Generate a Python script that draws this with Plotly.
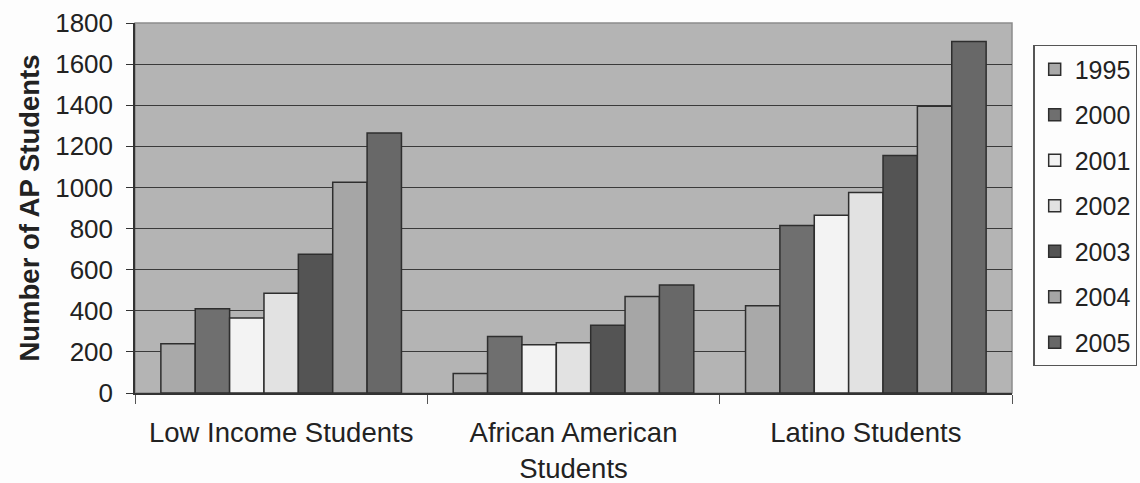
import plotly.graph_objects as go

# Student groups on the category axis
groups = ["Low Income Students", "African American<br>Students", "Latino Students"]

# Number of AP students per year, one list per series (same order as groups)
years = ["1995", "2000", "2001", "2002", "2003", "2004", "2005"]
ap_1995 = [240, 95, 425]
ap_2000 = [410, 275, 815]
ap_2001 = [365, 235, 865]
ap_2002 = [485, 245, 975]
ap_2003 = [675, 330, 1155]
ap_2004 = [1025, 470, 1395]
ap_2005 = [1265, 525, 1710]

y_ticks = [0, 200, 400, 600, 800, 1000, 1200, 1400, 1600, 1800]

series = [ap_1995, ap_2000, ap_2001, ap_2002, ap_2003, ap_2004, ap_2005]
fills = ["#a9a9a9", "#6f6f6f", "#f3f3f3", "#e2e2e2", "#545454", "#a6a6a6", "#686868"]

FONT = "Liberation Sans, Arial, sans-serif"

fig = go.Figure()
for name, vals, col in zip(years, series, fills):
    fig.add_trace(go.Bar(
        x=groups, y=vals, name=name, legendgroup=name,
        marker=dict(color=col, line=dict(color="#2e2e2e", width=1.5)),
    ))

# light frame around the plot area
fig.add_shape(type="rect", xref="paper", yref="paper", x0=0, y0=0, x1=1, y1=1,
              line=dict(color="#8c8c8c", width=1.5), layer="below")

fig.update_layout(
    width=1140, height=483,
    margin=dict(l=135, r=128, t=23, b=90, pad=0, autoexpand=False),
    paper_bgcolor="#fdfdfd",
    plot_bgcolor="#b4b4b4",
    barmode="group", bargap=0.177, bargroupgap=0,
    font=dict(family=FONT, color="#222", size=24),
    legend=dict(
        x=1.0245, xanchor="left", y=0.94, yanchor="top",
        bordercolor="#555", borderwidth=1.2, bgcolor="#fdfdfd",
        font=dict(size=25, color="#222"),
        tracegroupgap=10, itemwidth=30,
    ),
    showlegend=True,
)

fig.update_yaxes(
    range=[0, 1800], tickvals=y_ticks, ticktext=[str(v) for v in y_ticks],
    showgrid=True, gridcolor="#3a3a3a", gridwidth=1,
    showline=True, linecolor="#333", linewidth=1.5,
    ticks="outside", ticklen=7, tickcolor="#333",
    tickfont=dict(size=26), ticklabelstandoff=8,
    title=dict(text="<b>Number of AP Students</b>", font=dict(size=27.5), standoff=8),
    zeroline=False,
)
fig.update_xaxes(
    showline=True, linecolor="#333", linewidth=1.5,
    ticks="outside", tickson="boundaries", ticklen=9, tickcolor="#555",
    tickfont=dict(size=27.5), ticklabelstandoff=14,
    showgrid=False,
)

fig.write_html("out.html")
